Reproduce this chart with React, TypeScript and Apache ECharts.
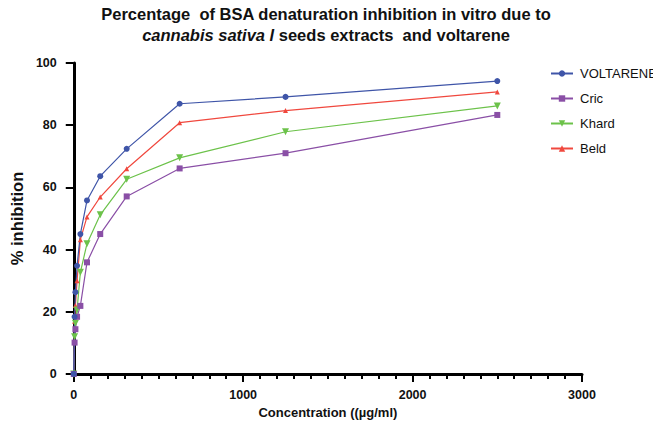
import React, { useEffect, useRef } from "react";
import * as echarts from "echarts";

// Concentrations (µg/ml) of the dilution series
const concentrations = [0, 4.88, 9.77, 19.53, 39.06, 78.125, 156.25, 312.5, 625, 1250, 2500];

// % inhibition for each sample
const voltarene = [0, 18.4, 26.3, 34.8, 45.0, 55.8, 63.6, 72.4, 86.9, 89.1, 94.2];
const cric = [0, 10.1, 14.4, 18.4, 21.9, 35.9, 45.0, 57.1, 66.1, 71.0, 83.3];
const khard = [0, 12.0, 16.3, 20.6, 32.7, 41.9, 51.2, 62.6, 69.5, 77.9, 86.2];
const beld = [0, 17.0, 22.0, 30.0, 43.2, 50.5, 56.9, 66.0, 80.8, 84.7, 90.7];

const xTicks = [0, 1000, 2000, 3000];
const yTicks = [0, 20, 40, 60, 80, 100];

const titleLine1 = "Percentage  of BSA denaturation inhibition in vitro due to";
const titleLine2 = "{i|cannabis sativa l} seeds extracts  and voltarene";

const FONT = "'Liberation Sans', Arial, sans-serif";

const pair = (ys: number[]) => concentrations.map((c, i) => [c, ys[i]]);

export default function App() {
  const ref = useRef<HTMLDivElement>(null);

  useEffect(() => {
    if (!ref.current) return;
    const chart = echarts.init(ref.current, undefined, { renderer: "svg" });

    const mkSeries = (
      name: string,
      ys: number[],
      color: string,
      symbol: string,
      size: number,
      rotate = 0
    ) => ({
      name,
      type: "line",
      data: pair(ys),
      color,
      symbol,
      symbolSize: size,
      symbolRotate: rotate,
      showAllSymbol: true,
      lineStyle: { width: 1.2, color },
      itemStyle: { color },
      z: 3,
    });

    const labelStyle = {
      fontFamily: FONT,
      fontSize: 12.5,
      fontWeight: "bold",
      color: "#111",
    };

    const titleFont = `bold 16.5px ${FONT}`;

    chart.setOption({
      animation: false,
      backgroundColor: "#ffffff",
      graphic: [
        {
          type: "text",
          x: 326,
          y: 14,
          style: {
            text: titleLine1,
            font: titleFont,
            fill: "#111",
            align: "center",
            verticalAlign: "middle",
          },
        },
        {
          type: "text",
          x: 326,
          y: 35,
          style: {
            text: titleLine2,
            font: titleFont,
            fill: "#111",
            align: "center",
            verticalAlign: "middle",
            rich: {
              i: { font: `italic ${titleFont}`, fill: "#111" },
            },
          },
        },
      ],
      legend: {
        orient: "vertical",
        left: 545,
        top: 62,
        itemWidth: 22,
        itemHeight: 8,
        itemGap: 12,
        textStyle: { fontFamily: FONT, fontSize: 13, color: "#111", padding: [0, 0, 0, 2] },
        data: ["VOLTARENE", "Cric", "Khard", "Beld"],
      },
      grid: { left: 72, right: 79, top: 63, bottom: 54 },
      xAxis: {
        type: "value",
        min: xTicks[0],
        max: xTicks[xTicks.length - 1],
        interval: 1000,
        name: "Concentration ((µg/ml)",
        nameLocation: "middle",
        nameGap: 30,
        nameTextStyle: { fontFamily: FONT, fontSize: 13, fontWeight: "bold", color: "#111" },
        axisLine: { show: true, lineStyle: { color: "#000", width: 3 } },
        axisTick: { show: true, length: 8, lineStyle: { color: "#000", width: 2 } },
        minorTick: { show: true, splitNumber: 10, length: 5, lineStyle: { color: "#000", width: 2 } },
        splitLine: { show: false },
        axisLabel: { ...labelStyle, margin: 14, formatter: (v: number) => String(v) },
      },
      yAxis: {
        type: "value",
        min: yTicks[0],
        max: yTicks[yTicks.length - 1],
        interval: 20,
        name: "% inhibition",
        nameLocation: "middle",
        nameGap: 40,
        nameTextStyle: { fontFamily: FONT, fontSize: 16.5, fontWeight: "bold", color: "#111" },
        axisLine: { show: true, lineStyle: { color: "#000", width: 3 } },
        axisTick: { show: true, length: 8, lineStyle: { color: "#000", width: 2 } },
        splitLine: { show: false },
        axisLabel: { ...labelStyle, margin: 17 },
      },
      series: [
        mkSeries("Beld", beld, "#f0483e", "triangle", 5),
        mkSeries("Khard", khard, "#6cc24a", "triangle", 7, 180),
        mkSeries("Cric", cric, "#8a4fa6", "rect", 6),
        mkSeries("VOLTARENE", voltarene, "#3f55a8", "circle", 6),
      ],
    });

    return () => chart.dispose();
  }, []);

  // negative margin cancels the body's default 8px margin so the chart fills the window
  return <div ref={ref} style={{ width: 661, height: 428, margin: -8 }} />;
}
